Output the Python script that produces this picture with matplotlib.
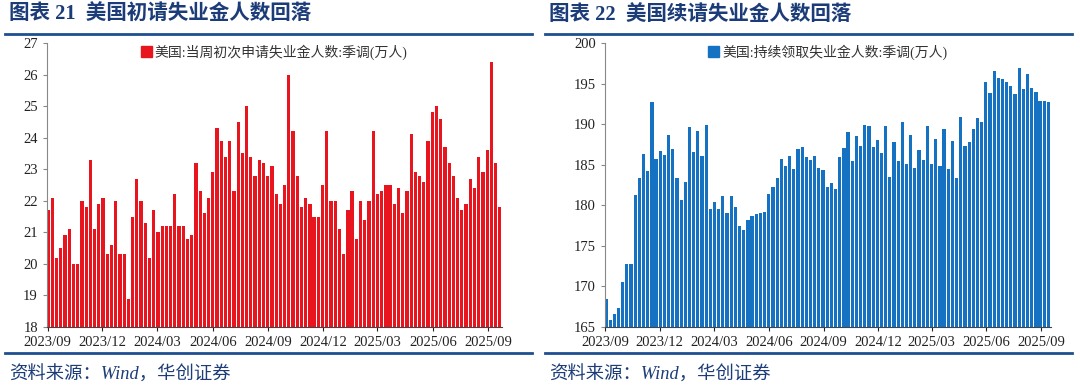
import matplotlib.pyplot as plt
import matplotlib.dates as mdates
from matplotlib.patches import Patch
from matplotlib.lines import Line2D
import pandas as pd

plt.rcParams['font.family'] = ['Liberation Serif', 'Noto Sans CJK SC']

first_week = '2023-09-02'

# 美国当周初次申请失业金人数(万人), 周度
initial_claims = [
    21.7, 22.1, 20.2, 20.5, 20.9, 21.1, 20.0, 20.0, 22.0, 21.8,
    23.3, 21.1, 21.9, 22.1, 20.3, 20.6, 22.0, 20.3, 20.3, 18.9,
    21.5, 22.7, 22.0, 21.3, 20.2, 21.7, 21.0, 21.2, 21.2, 21.2,
    22.2, 21.2, 21.2, 20.8, 20.9, 23.2, 22.3, 21.6, 22.1, 22.9,
    24.3, 23.9, 23.4, 23.9, 22.3, 24.5, 23.5, 25.0, 23.4, 22.8,
    23.3, 23.2, 22.8, 23.1,
    22.2, 21.9, 22.5, 26.0, 24.2, 22.8, 21.8, 22.1, 21.9, 21.5,
    21.5, 22.5, 24.2, 22.0, 22.0, 21.1, 20.3, 21.7, 22.3, 20.8,
    22.0, 21.4, 22.0, 24.2, 22.2, 22.3, 22.5, 22.5, 21.9, 22.4,
    21.6, 22.3, 24.1, 22.9, 22.8, 22.6, 23.9, 24.8, 25.0, 24.6,
    23.7, 23.2, 22.8, 22.1, 21.7, 21.9, 22.7, 22.4, 23.4, 22.9,
    23.6, 26.4, 23.2, 21.8,
]

# 美国持续领取失业金人数(万人), 周度
continuing_claims = [
    168.4, 165.9, 166.6, 167.3, 170.6, 172.8, 172.8, 181.3, 183.4, 186.3,
    184.2, 192.7, 185.7, 186.7, 186.2, 188.7, 186.9, 183.3, 180.7, 182.9,
    189.6, 186.6, 189.1, 186.1, 189.9, 179.5, 180.4, 179.6, 181.1, 179.0,
    181.1, 179.8, 177.5, 176.9, 178.2, 178.7, 178.9, 179.1, 179.2, 181.4,
    182.2, 183.3, 185.7, 184.9, 186.1, 184.5, 186.9, 187.2, 186.0, 185.6,
    186.1, 184.6, 184.4, 182.2, 182.8, 182.0, 186.0, 187.0, 189.0, 185.4,
    188.5, 187.3, 189.9, 189.8, 187.2, 188.0, 186.5, 189.8, 183.5, 187.8,
    185.5, 190.2, 185.1, 188.7, 184.6, 186.8, 185.6, 189.8, 185.1, 188.2,
    184.8, 189.4, 184.5, 187.9, 183.4, 190.9, 187.3, 187.8, 189.4, 190.8,
    190.3, 195.2, 193.8, 196.5, 195.7, 195.6, 195.2, 194.7, 193.7, 196.9,
    194.3, 196.2, 194.5, 194.0, 192.8, 192.9, 192.7,
]

panels = [
    ('图表 21  美国初请失业金人数回落', '美国:当周初次申请失业金人数:季调(万人)',
     initial_claims, '#e8141e', (18, 27), 1, '2025-09-23'),
    ('图表 22  美国续请失业金人数回落', '美国:持续领取失业金人数:季调(万人)',
     continuing_claims, '#1572c2', (165, 200), 5, '2025-09-17'),
]

fig = plt.figure(figsize=(10.8, 3.87), dpi=100)
navy = '#1b3c78'
line_blue = '#1f4e91'

ax_boxes = [[0.0435, 0.155, 0.421, 0.734], [0.560, 0.155, 0.413, 0.734]]
x0s = [0.005, 0.505]

for (title, label, values, color, ylim, ystep, xend), box, x0 in zip(panels, ax_boxes, x0s):
    ax = fig.add_axes(box)
    dates = pd.date_range(first_week, periods=len(values), freq='7D')
    ax.bar(dates, values, width=5.4, color=color, linewidth=0)
    ax.set_ylim(*ylim)
    ax.set_yticks(range(ylim[0], ylim[1] + 1, ystep))
    ax.set_xlim(pd.Timestamp('2023-08-31'), pd.Timestamp(xend))
    ax.xaxis.set_major_locator(mdates.MonthLocator(bymonth=[3, 6, 9, 12]))
    ax.xaxis.set_major_formatter(mdates.DateFormatter('%Y/%m'))
    ax.tick_params(labelsize=10.5, colors='#222222', length=3, width=0.8)
    for s in ['top', 'right']:
        ax.spines[s].set_visible(False)
    ax.spines['left'].set_color('#888888')
    ax.spines['bottom'].set_color('#444444')
    ax.tick_params(axis='y', colors='#888888', labelcolor='#222222')

    ax.legend(handles=[Patch(color=color, label=label)], loc='upper center',
              bbox_to_anchor=(0.5, 1.04), frameon=False, fontsize=10,
              handlelength=0.8, handleheight=0.8, handletextpad=0.2,
              labelcolor='#333333')

    fig.text(x0 + 0.003, 0.962, title, fontsize=14.8, fontweight='bold',
             color=navy, va='center', ha='left')
    fig.add_artist(Line2D([x0, x0 + 0.488], [0.912, 0.912], color=line_blue, lw=2))
    fig.add_artist(Line2D([x0, x0 + 0.488], [0.088, 0.088], color=line_blue, lw=2))
    fig.text(x0 + 0.003, 0.031, '资料来源：Wind，华创证券', fontsize=13.2,
             style='italic', color=navy, va='center', ha='left')

fig.savefig('out.png', dpi=100)
